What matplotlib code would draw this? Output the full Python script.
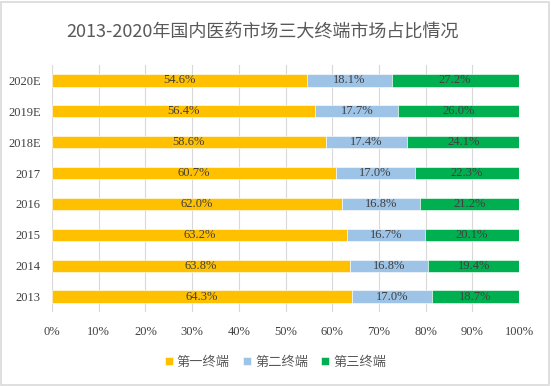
import matplotlib
matplotlib.use("Agg")
import matplotlib.pyplot as plt
from matplotlib.patches import Rectangle

years = ["2013", "2014", "2015", "2016", "2017", "2018E", "2019E", "2020E"]
first = [64.3, 63.8, 63.2, 62.0, 60.7, 58.6, 56.4, 54.6]
second = [17.0, 16.8, 16.7, 16.8, 17.0, 17.4, 17.7, 18.1]
third = [18.7, 19.4, 20.1, 21.2, 22.3, 24.1, 26.0, 27.2]
series_names = ["第一终端", "第二终端", "第三终端"]
colors = ["#FFC000", "#9DC3E6", "#00B050"]
xticks = [0, 10, 20, 30, 40, 50, 60, 70, 80, 90, 100]

serif = ["Liberation Serif", "DejaVu Serif"]
cjk = ["Noto Sans CJK SC", "DejaVu Sans"]
txt = "#404040"

fig = plt.figure(figsize=(5.51, 3.86), dpi=100)
ax = fig.add_axes([0.0944, 0.1917, 0.8476, 0.64])

ypos = list(range(len(years)))
left = [0] * len(years)
handles = []
for vals, name, c in zip([first, second, third], series_names, colors):
    bars = ax.barh(ypos, vals, left=left, height=0.4, color=c, label=name,
                   edgecolor="white", linewidth=0.4, zorder=3)
    handles.append(bars)
    for y, v, l in zip(ypos, vals, left):
        ax.text(l + v / 2, y, f"{v:.1f}%", ha="center", va="center",
                fontsize=9, color=txt, family=serif, zorder=4)
    left = [a + b for a, b in zip(left, vals)]

ax.set_xlim(0, 100)
ax.set_ylim(-0.5, len(years) - 0.5)
ax.set_xticks(xticks)
ax.set_xticklabels([f"{t}%" for t in xticks], family=serif, fontsize=9, color=txt)
ax.set_yticks(ypos)
ax.set_yticklabels(years, family=serif, fontsize=9, color=txt)
ax.tick_params(length=0, pad=8)
ax.tick_params(axis="x", pad=10)
ax.grid(axis="x", color="#D9D9D9", linewidth=0.8, zorder=0)
for s in ax.spines.values():
    s.set_visible(False)

fig.text(0.476, 0.915, "2013-2020年国内医药市场三大终端市场占比情况", ha="center",
         va="center", fontsize=13, color="#595959", family=cjk)

leg = fig.legend(handles=handles, labels=series_names, loc="center",
                 bbox_to_anchor=(0.5, 0.062), ncol=3, frameon=False,
                 prop={"family": cjk, "size": 9.5}, handlelength=0.6,
                 handleheight=0.6, handletextpad=0.3, columnspacing=1.0)
for t in leg.get_texts():
    t.set_color("#595959")

fig.patches.append(Rectangle((0.002, 0.003), 0.995, 0.993, transform=fig.transFigure,
                             fill=False, edgecolor="#D9D9D9", linewidth=1.2))

fig.savefig("out.png", dpi=100, facecolor="white")
